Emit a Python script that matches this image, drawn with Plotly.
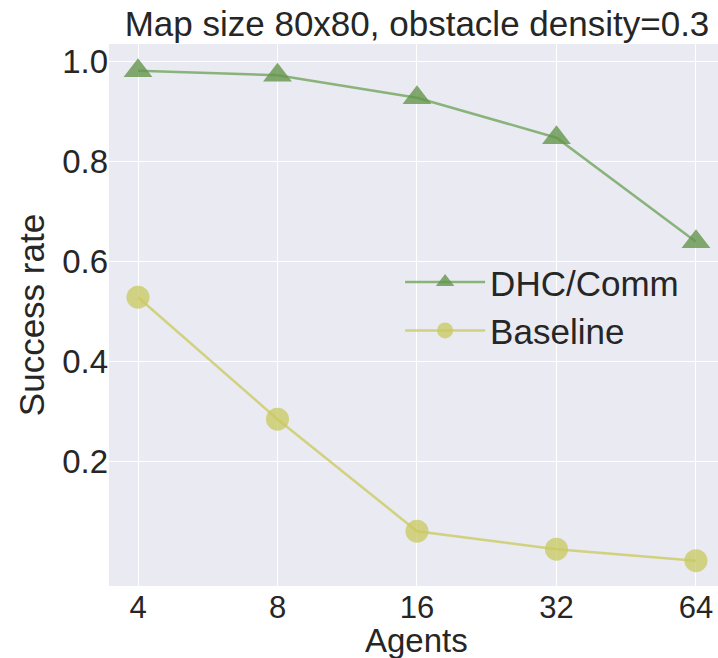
import plotly.graph_objects as go

agents = ["4", "8", "16", "32", "64"]
dhc_comm = [0.982, 0.973, 0.928, 0.848, 0.640]
baseline = [0.529, 0.285, 0.061, 0.025, 0.002]
y_ticks = [0.2, 0.4, 0.6, 0.8, 1.0]
y_tick_text = ["0.2", "0.4", "0.6", "0.8", "1.0"]

x_idx = list(range(len(agents)))

FONT = "Liberation Sans, Arial, sans-serif"
TXT = "#262626"

fig = go.Figure()
fig.add_trace(go.Scatter(
    x=x_idx, y=dhc_comm, name="DHC/Comm", mode="lines+markers",
    line=dict(color="rgba(104,160,82,0.75)", width=2.5),
    marker=dict(symbol="triangle-up", size=25, color="rgba(100,150,75,0.8)",
                line=dict(width=0)),
))
fig.add_trace(go.Scatter(
    x=x_idx, y=baseline, name="Baseline", mode="lines+markers",
    line=dict(color="rgba(200,200,90,0.75)", width=2.5),
    marker=dict(symbol="circle", size=23, color="rgba(200,200,95,0.75)",
                line=dict(width=0)),
))

fig.update_layout(
    width=718, height=658,
    margin=dict(l=109, r=0, t=44, b=72),
    paper_bgcolor="white",
    plot_bgcolor="#EAEAF2",
    font=dict(family=FONT, color=TXT, size=33),
    title=dict(text="Map size 80x80, obstacle density=0.3",
               x=417 / 718, xref="container", xanchor="center",
               y=1 - 24 / 658, yref="container", yanchor="middle",
               font=dict(size=35, color=TXT)),
    showlegend=True,
    legend=dict(x=0.478, y=0.615, xanchor="left", yanchor="top",
                bgcolor="rgba(0,0,0,0)", font=dict(size=35, color=TXT),
                itemwidth=80),
    xaxis=dict(
        tickmode="array", tickvals=x_idx, ticktext=agents,
        range=[-0.208, 4.158], showgrid=True, gridcolor="white", gridwidth=1.2,
        zeroline=False, ticks="", showline=False,
        tickfont=dict(size=31, color=TXT),
    ),
    yaxis=dict(
        tickmode="array", tickvals=y_ticks, ticktext=y_tick_text,
        range=[-0.0486, 1.0354], showgrid=True, gridcolor="white", gridwidth=1.2,
        zeroline=False, ticks="", showline=False,
        tickfont=dict(size=33, color=TXT),
        title=dict(text="Success rate", font=dict(size=35, color=TXT), standoff=6),
    ),
    annotations=[dict(
        text="Agents", x=(416 - 109) / 609, xref="paper",
        y=0, yref="paper", yanchor="top", yshift=-34,
        showarrow=False, font=dict(size=33, color=TXT),
    )],
)

fig.write_html("out.html")
